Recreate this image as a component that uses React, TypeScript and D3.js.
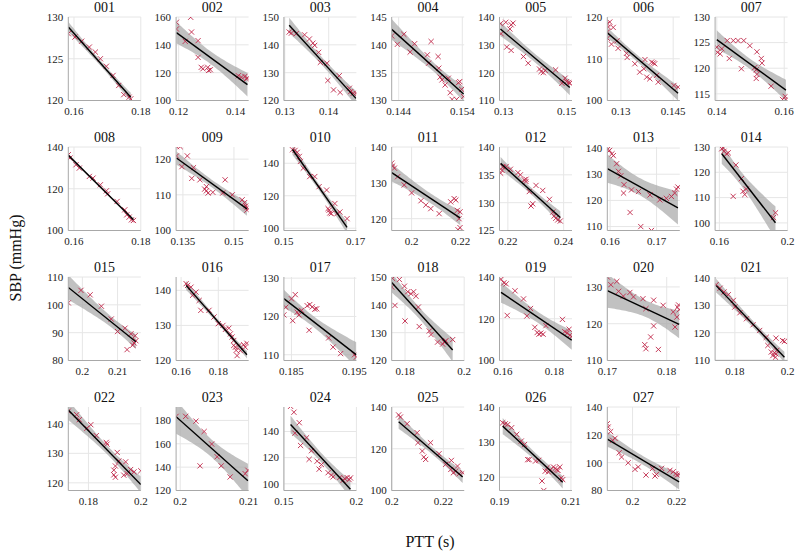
import * as d3 from "d3";

type Pt = [number, number];

const subjectIds = [
  "001", "002", "003", "004", "005", "006", "007",
  "008", "009", "010", "011", "012", "013", "014",
  "015", "016", "017", "018", "019", "020", "021",
  "022", "023", "024", "025", "026", "027",
];

// PTT (s), SBP (mmHg)
const s001: Pt[] = [[0.1583,128.0],[0.1603,127.6],[0.1623,127.1],[0.1646,126.4],[0.1664,125.8],[0.1679,125.0],[0.1697,124.1],[0.1717,123.0],[0.1734,121.8],[0.1749,120.7],[0.1765,120.4],[0.1770,120.2]];
const s002: Pt[] = [[0.1192,156.2],[0.1192,151.4],[0.1242,159.8],[0.1245,149.2],[0.1223,142.5],[0.1268,143.0],[0.1268,131.0],[0.1279,123.8],[0.1285,122.8],[0.1302,123.8],[0.1305,121.6],[0.1311,122.1],[0.1409,117.8],[0.1420,116.8],[0.1432,117.3],[0.1437,115.6],[0.1441,116.1]];
const s003: Pt[] = [[0.1310,144.6],[0.1315,144.2],[0.1326,144.0],[0.1345,143.6],[0.1356,142.1],[0.1364,140.6],[0.1368,139.8],[0.1377,137.3],[0.1381,133.7],[0.1396,133.4],[0.1398,127.2],[0.1411,123.8],[0.1424,128.9],[0.1426,122.9],[0.1447,124.4],[0.1450,123.2],[0.1456,122.6],[0.1462,122.6]];
const s004: Pt[] = [[0.1429,141.6],[0.1438,140.1],[0.1448,141.9],[0.1458,138.7],[0.1465,140.2],[0.1485,138.2],[0.1491,140.6],[0.1487,136.7],[0.1502,137.9],[0.1503,135.8],[0.1505,134.2],[0.1508,133.7],[0.1513,132.8],[0.1518,134.0],[0.1521,131.4],[0.1524,130.2],[0.1531,130.2],[0.1534,133.2],[0.1536,133.4],[0.1539,132.0],[0.1542,130.7]];
const s005: Pt[] = [[0.1290,137.6],[0.1307,138.1],[0.1324,137.2],[0.1330,137.8],[0.1320,135.7],[0.1292,134.0],[0.1310,129.2],[0.1324,128.0],[0.1363,125.8],[0.1378,123.4],[0.1414,121.3],[0.1419,120.4],[0.1426,120.0],[0.1432,120.8],[0.1465,121.0],[0.1485,116.2],[0.1495,118.0],[0.1500,116.8],[0.1507,116.5],[0.1510,116.2]];
const s006: Pt[] = [[0.1261,118.4],[0.1264,117.6],[0.1268,118.8],[0.1278,117.5],[0.1261,116.4],[0.1261,114.9],[0.1273,113.5],[0.1289,114.3],[0.1292,112.5],[0.1316,111.3],[0.1318,110.3],[0.1340,108.8],[0.1354,106.8],[0.1366,107.6],[0.1369,109.8],[0.1374,105.6],[0.1383,105.2],[0.1388,109.2],[0.1393,109.0],[0.1397,108.8],[0.1402,106.0],[0.1407,104.4],[0.1452,103.6],[0.1464,103.2]];
const s007: Pt[] = [[0.1400,124.1],[0.1402,123.1],[0.1410,122.8],[0.1415,123.8],[0.1431,125.4],[0.1449,125.4],[0.1463,125.4],[0.1480,125.4],[0.1498,124.4],[0.1437,121.9],[0.1473,119.9],[0.1519,123.2],[0.1532,121.9],[0.1534,121.0],[0.1512,120.1],[0.1517,119.7],[0.1519,118.8],[0.1517,118.0],[0.1561,116.5],[0.1595,113.9],[0.1603,114.5],[0.1605,113.9]];
const s008: Pt[] = [[0.1583,136.3],[0.1588,134.7],[0.1606,131.5],[0.1616,129.9],[0.1646,125.9],[0.1657,125.1],[0.1679,121.9],[0.1697,119.0],[0.1701,117.6],[0.1729,113.9],[0.1752,109.9],[0.1758,107.5],[0.1765,106.4],[0.1772,105.1],[0.1778,104.8]];
const s009: Pt[] = [[0.1331,123.5],[0.1342,123.5],[0.1331,120.9],[0.1363,120.9],[0.1347,117.9],[0.1381,117.6],[0.1376,114.6],[0.1400,114.2],[0.1414,111.6],[0.1419,111.1],[0.1424,110.5],[0.1438,110.7],[0.1419,112.3],[0.1474,114.2],[0.1467,110.5],[0.1495,110.0],[0.1524,108.6],[0.1531,107.8],[0.1535,106.9],[0.1538,105.7],[0.1538,106.4]];
const s010: Pt[] = [[0.1524,148.3],[0.1531,147.9],[0.1537,146.7],[0.1543,144.2],[0.1546,141.1],[0.1554,137.0],[0.1572,131.8],[0.1586,131.8],[0.1598,125.6],[0.1619,123.5],[0.1623,112.1],[0.1626,111.1],[0.1628,109.4],[0.1632,109.0],[0.1642,115.2],[0.1648,109.0],[0.1656,110.0],[0.1676,105.9]];
const s011: Pt[] = [[0.1919,135.5],[0.1923,134.7],[0.1930,134.1],[0.1943,131.7],[0.1970,129.4],[0.2000,127.2],[0.2038,125.0],[0.2058,123.8],[0.2078,122.8],[0.2112,121.4],[0.2159,124.7],[0.2173,125.6],[0.2180,125.2],[0.2186,122.3],[0.2193,120.0],[0.2197,121.9],[0.2189,116.9],[0.2197,117.5]];
const s012: Pt[] = [[0.2174,135.3],[0.2179,135.8],[0.2182,136.4],[0.2194,136.5],[0.2209,136.0],[0.2236,135.4],[0.2245,135.0],[0.2265,134.2],[0.2259,134.1],[0.2265,133.8],[0.2277,132.0],[0.2283,129.4],[0.2289,129.8],[0.2301,133.1],[0.2325,132.2],[0.2349,130.6],[0.2361,128.3],[0.2366,127.6],[0.2372,127.2],[0.2379,126.9],[0.2388,126.7]];
const s013: Pt[] = [[0.1594,139.4],[0.1599,139.1],[0.1604,137.8],[0.1607,137.1],[0.1614,134.0],[0.1618,131.1],[0.1623,129.4],[0.1630,126.0],[0.1629,122.8],[0.1643,115.4],[0.1646,124.0],[0.1661,123.4],[0.1666,110.0],[0.1686,122.1],[0.1689,108.5],[0.1707,120.2],[0.1721,120.8],[0.1732,121.5],[0.1739,122.8],[0.1743,124.3],[0.1746,125.1]];
const s014: Pt[] = [[0.1614,129.3],[0.1623,129.6],[0.1627,128.3],[0.1643,127.3],[0.1652,127.7],[0.1697,122.9],[0.1681,110.5],[0.1729,117.5],[0.1739,112.5],[0.1749,111.2],[0.1758,113.4],[0.1917,102.1],[0.1929,104.0]];
const s015: Pt[] = [[0.1960,100.7],[0.1996,105.2],[0.2022,103.6],[0.2054,99.5],[0.2082,94.9],[0.2100,90.4],[0.2121,91.6],[0.2127,83.9],[0.2138,89.6],[0.2143,85.5],[0.2147,86.3],[0.2150,88.9],[0.2152,87.1]];
const s016: Pt[] = [[0.1627,141.9],[0.1635,141.4],[0.1653,140.9],[0.1662,138.6],[0.1680,139.5],[0.1697,137.1],[0.1706,134.3],[0.1750,134.3],[0.1777,132.4],[0.1800,130.5],[0.1825,130.0],[0.1839,128.9],[0.1857,129.2],[0.1865,127.6],[0.1874,126.7],[0.1883,125.7],[0.1883,124.3],[0.1892,123.8],[0.1896,122.9],[0.1901,121.4],[0.1910,124.2],[0.1919,122.8],[0.1936,124.5],[0.1945,123.8],[0.1954,124.9]];
const s017: Pt[] = [[0.1838,120.4],[0.1841,122.4],[0.1850,124.6],[0.1852,118.9],[0.1856,125.7],[0.1859,121.1],[0.1862,120.4],[0.1866,121.6],[0.1875,122.8],[0.1878,116.4],[0.1879,123.1],[0.1883,122.5],[0.1887,121.9],[0.1890,122.0],[0.1909,114.4],[0.1916,112.0],[0.1928,110.3],[0.1950,110.0],[0.1953,109.4]];
const s018: Pt[] = [[0.1755,146.4],[0.1758,149.5],[0.1766,139.8],[0.1781,149.1],[0.1798,146.7],[0.1800,134.2],[0.1809,144.7],[0.1820,144.0],[0.1829,144.7],[0.1837,143.1],[0.1845,139.2],[0.1848,132.2],[0.1882,130.6],[0.1888,129.3],[0.1910,126.6],[0.1927,125.9],[0.1933,126.6],[0.1938,127.1],[0.1961,127.5]];
const s019: Pt[] = [[0.1593,138.9],[0.1604,137.2],[0.1613,136.7],[0.1647,133.4],[0.1617,121.6],[0.1680,129.5],[0.1693,121.3],[0.1707,124.9],[0.1724,115.9],[0.1733,113.4],[0.1740,112.6],[0.1747,113.1],[0.1756,112.6],[0.1767,116.7],[0.1831,119.7],[0.1840,113.8],[0.1849,113.1],[0.1860,112.1],[0.1867,111.5],[0.1857,115.0]];
const s020: Pt[] = [[0.1700,132.7],[0.1716,131.5],[0.1706,130.6],[0.1719,128.8],[0.1727,127.5],[0.1738,128.5],[0.1744,127.3],[0.1760,126.8],[0.1765,124.1],[0.1778,126.4],[0.1794,125.0],[0.1763,114.3],[0.1765,113.2],[0.1773,116.4],[0.1778,119.4],[0.1786,113.0],[0.1811,123.2],[0.1814,119.1],[0.1817,121.8],[0.1818,124.5],[0.1820,125.1],[0.1821,123.8]];
const s021: Pt[] = [[0.1729,137.6],[0.1744,136.3],[0.1759,134.9],[0.1775,133.9],[0.1794,131.8],[0.1800,129.4],[0.1819,127.3],[0.1844,125.1],[0.1869,122.9],[0.1894,120.8],[0.1919,118.3],[0.1925,115.3],[0.1938,112.9],[0.1944,111.6],[0.1950,112.6],[0.1954,111.0],[0.1956,112.2],[0.1959,113.5],[0.1956,118.0],[0.1981,117.1],[0.1988,116.8]];
const s022: Pt[] = [[0.1723,144.3],[0.1755,143.1],[0.1765,141.4],[0.1794,138.5],[0.1809,139.7],[0.1830,136.0],[0.1868,133.7],[0.1871,133.1],[0.1910,130.3],[0.1903,125.7],[0.1897,124.3],[0.1897,122.7],[0.1903,121.9],[0.1916,127.4],[0.1942,127.1],[0.1935,122.6],[0.1948,123.1],[0.1961,124.5],[0.1974,123.7],[0.2000,124.1]];
const s023: Pt[] = [[0.1994,183.5],[0.2008,183.5],[0.2023,179.4],[0.2035,170.5],[0.2046,159.8],[0.2029,141.1],[0.2054,148.9],[0.2060,141.1],[0.2073,131.6],[0.2095,134.4],[0.2099,137.3]];
const s024: Pt[] = [[0.1546,159.2],[0.1569,154.7],[0.1576,138.7],[0.1606,146.7],[0.1615,129.3],[0.1656,135.2],[0.1674,118.7],[0.1690,125.3],[0.1729,117.3],[0.1743,111.2],[0.1759,114.7],[0.1805,108.5],[0.1828,106.7],[0.1839,105.3],[0.1885,104.8],[0.1908,102.7],[0.1920,104.0],[0.1936,104.8],[0.1950,103.2],[0.1959,104.5]];
const s025: Pt[] = [[0.2026,136.2],[0.2033,135.2],[0.2059,132.0],[0.2098,127.7],[0.2101,122.9],[0.2118,118.9],[0.2124,116.0],[0.2131,114.9],[0.2150,122.9],[0.2183,117.6],[0.2209,112.5],[0.2229,110.1],[0.2231,114.4],[0.2239,108.5],[0.2248,109.3],[0.2255,111.7],[0.2261,108.0],[0.2275,108.5]];
const s026: Pt[] = [[0.1909,135.5],[0.1916,135.2],[0.1923,135.0],[0.1934,134.1],[0.1948,132.2],[0.1961,130.3],[0.1970,129.3],[0.1979,125.0],[0.1983,125.0],[0.2001,124.6],[0.2010,124.8],[0.2019,118.9],[0.2024,116.2],[0.2028,121.7],[0.2033,122.7],[0.2037,121.5],[0.2042,122.1],[0.2051,122.9],[0.2056,122.5],[0.2060,122.1],[0.2064,121.9],[0.2069,122.9],[0.2073,119.8],[0.2077,119.3]];
const s027: Pt[] = [[0.1885,128.0],[0.1889,125.6],[0.1900,122.3],[0.1909,116.1],[0.1920,117.5],[0.1939,107.1],[0.1950,104.0],[0.1980,99.9],[0.2011,95.2],[0.2026,96.9],[0.2061,91.1],[0.2091,95.9],[0.2102,90.4],[0.2109,91.6],[0.2132,95.9],[0.2170,94.5],[0.2185,93.5],[0.2197,92.1],[0.2203,91.1],[0.2212,91.6]];

const subjects = [
  s001, s002, s003, s004, s005, s006, s007, s008, s009, s010, s011, s012, s013, s014,
  s015, s016, s017, s018, s019, s020, s021, s022, s023, s024, s025, s026, s027,
];

const xDomains: Pt[] = [
  [0.1583, 0.18], [0.1191, 0.1445], [0.1298, 0.1463], [0.1429, 0.1543], [0.1287, 0.1517], [0.1261, 0.1469], [0.1395, 0.161],
  [0.1583, 0.18], [0.133, 0.1543], [0.15, 0.1702], [0.1919, 0.2214], [0.217, 0.243], [0.1594, 0.175], [0.1575, 0.2],
  [0.196, 0.2166], [0.1573, 0.1963], [0.1838, 0.1953], [0.1755, 0.2], [0.1587, 0.1868], [0.17, 0.1822], [0.1725, 0.2],
  [0.1723, 0.2], [0.1994, 0.21], [0.15, 0.2], [0.1999, 0.2281], [0.19, 0.2103], [0.1885, 0.2215],
];
const yDomains: Pt[] = [
  [120, 130], [100, 160], [120, 150], [130, 145], [110, 140], [100, 120], [113.7, 130],
  [100, 140], [100, 123.4], [98.6, 150], [116.7, 140], [125, 140], [108.5, 140.4], [97, 130],
  [80, 110], [120, 143.8], [108.5, 130.3], [120, 150], [100, 140], [110, 132.7], [109.8, 140.4],
  [117.4, 145.7], [120, 191.5], [94.9, 158.7], [100, 140], [116.2, 140], [80, 140],
];
const xTickValues: number[][] = [
  [0.16, 0.18], [0.12, 0.14], [0.13, 0.14], [0.144, 0.154], [0.13, 0.15], [0.13, 0.145], [0.14, 0.16],
  [0.16, 0.18], [0.135, 0.15], [0.15, 0.17], [0.2, 0.22], [0.22, 0.24], [0.16, 0.17], [0.16, 0.2],
  [0.2, 0.21], [0.16, 0.18], [0.185, 0.195], [0.18, 0.2], [0.16, 0.18], [0.17, 0.18], [0.18, 0.2],
  [0.18, 0.2], [0.2, 0.21], [0.15, 0.2], [0.2, 0.22], [0.19, 0.21], [0.2, 0.22],
];
const yTickValues: number[][] = [
  [120, 125, 130], [100, 120, 140, 160], [120, 130, 140, 150], [130, 135, 140, 145], [110, 120, 130, 140], [100, 110, 120], [115, 120, 125, 130],
  [100, 120, 140], [100, 110, 120], [100, 120, 140], [120, 130, 140], [125, 130, 135, 140], [110, 120, 130, 140], [100, 110, 120, 130],
  [80, 90, 100, 110], [120, 130, 140], [110, 120, 130], [120, 130, 140, 150], [100, 120, 140], [110, 120, 130], [110, 120, 130, 140],
  [120, 130, 140], [120, 140, 160, 180], [100, 120, 140], [100, 120, 140], [120, 130, 140], [80, 100, 120, 140],
];

const W = 798;
const H = 553;
const colLeft = 68.3;
const colStep = 107.8;
const plotW = 72.5;
const rowTop = 17;
const rowStep = 130;
const plotH = 83.5;
const font = "'Liberation Serif', 'DejaVu Serif', serif";
const markColor = "#c0284a";

// two-sided 95% t quantile (Cornish-Fisher approx)
const tCrit = (df: number) => 1.96 + 2.372 / df + 2.82 / (df * df);

function linearFit(pts: Pt[]) {
  const n = pts.length;
  const mx = d3.mean(pts, (p) => p[0]) as number;
  const my = d3.mean(pts, (p) => p[1]) as number;
  let sxx = 0, sxy = 0;
  pts.forEach(([x, y]) => {
    sxx += (x - mx) ** 2;
    sxy += (x - mx) * (y - my);
  });
  const b = sxy / sxx;
  const a = my - b * mx;
  let sse = 0;
  pts.forEach(([x, y]) => (sse += (y - a - b * x) ** 2));
  const s = Math.sqrt(sse / (n - 2));
  const t = tCrit(n - 2);
  const predict = (x: number) => a + b * x;
  const half = (x: number) => t * s * Math.sqrt(1 / n + (x - mx) ** 2 / sxx);
  return { predict, half };
}

function Panel({ idx }: { idx: number }) {
  const col = idx % 7;
  const row = Math.floor(idx / 7);
  const left = colLeft + col * colStep;
  const top = rowTop + row * rowStep;
  const pts = subjects[idx];
  const x = d3.scaleLinear().domain(xDomains[idx]).range([0, plotW]);
  const y = d3.scaleLinear().domain(yDomains[idx]).range([plotH, 0]);
  const { predict, half } = linearFit(pts);
  const [x0, x1] = d3.extent(pts, (p) => p[0]) as Pt;
  const xs = d3.range(0, 41).map((i) => x0 + ((x1 - x0) * i) / 40);
  const band = d3
    .area<number>()
    .x((d) => x(d))
    .y0((d) => y(predict(d) - half(d)))
    .y1((d) => y(predict(d) + half(d)))(xs);
  const line = d3
    .line<number>()
    .x((d) => x(d))
    .y((d) => y(predict(d)))([x0, x1]);
  const clipId = `clip-${idx}`;

  return (
    <g transform={`translate(${left},${top})`}>
      <clipPath id={clipId}>
        <rect x={0} y={0} width={plotW} height={plotH} />
      </clipPath>
      {/* grid */}
      {xTickValues[idx].map((v) => (
        <line key={`gx${v}`} x1={x(v)} x2={x(v)} y1={0} y2={plotH} stroke="#e6e6e6" strokeWidth={1} />
      ))}
      {yTickValues[idx].map((v) => (
        <line key={`gy${v}`} x1={0} x2={plotW} y1={y(v)} y2={y(v)} stroke="#e6e6e6" strokeWidth={1} />
      ))}
      <g clipPath={`url(#${clipId})`}>
        <path d={band ?? ""} fill="#a6a6a6" fillOpacity={0.7} />
        {pts.map(([px, py], i) => (
          <path
            key={i}
            transform={`translate(${x(px)},${y(py)})`}
            d="M-2.6,-2.6L2.6,2.6M-2.6,2.6L2.6,-2.6"
            stroke={markColor}
            strokeWidth={0.9}
            fill="none"
          />
        ))}
        <path d={line ?? ""} stroke="#000" strokeWidth={1.4} fill="none" />
      </g>
      {/* axes */}
      <line x1={0} x2={0} y1={0} y2={plotH} stroke="#a8a8a8" strokeWidth={1} />
      <line x1={0} x2={plotW} y1={plotH} y2={plotH} stroke="#a8a8a8" strokeWidth={1} />
      {yTickValues[idx].map((v) => (
        <text key={`ty${v}`} x={-5} y={y(v)} dy="0.35em" textAnchor="end" fontSize={11} fill="#222">
          {v}
        </text>
      ))}
      {xTickValues[idx].map((v) => (
        <text key={`tx${v}`} x={x(v)} y={plotH + 14} textAnchor="middle" fontSize={11} fill="#222">
          {String(v)}
        </text>
      ))}
      <text x={plotW / 2} y={-5} textAnchor="middle" fontSize={14} fill="#111">
        {subjectIds[idx]}
      </text>
    </g>
  );
}

export default function App() {
  return (
    <svg
      width={W}
      height={H}
      style={{ position: "absolute", left: 0, top: 0, background: "#fff" }}
      fontFamily={font}
    >
      {subjectIds.map((_, i) => (
        <Panel key={i} idx={i} />
      ))}
      <text
        transform={`translate(21,258) rotate(-90)`}
        textAnchor="middle"
        fontSize={16}
        fill="#111"
      >
        SBP (mmHg)
      </text>
      <text x={430} y={547} textAnchor="middle" fontSize={16} fill="#111">
        PTT (s)
      </text>
    </svg>
  );
}
